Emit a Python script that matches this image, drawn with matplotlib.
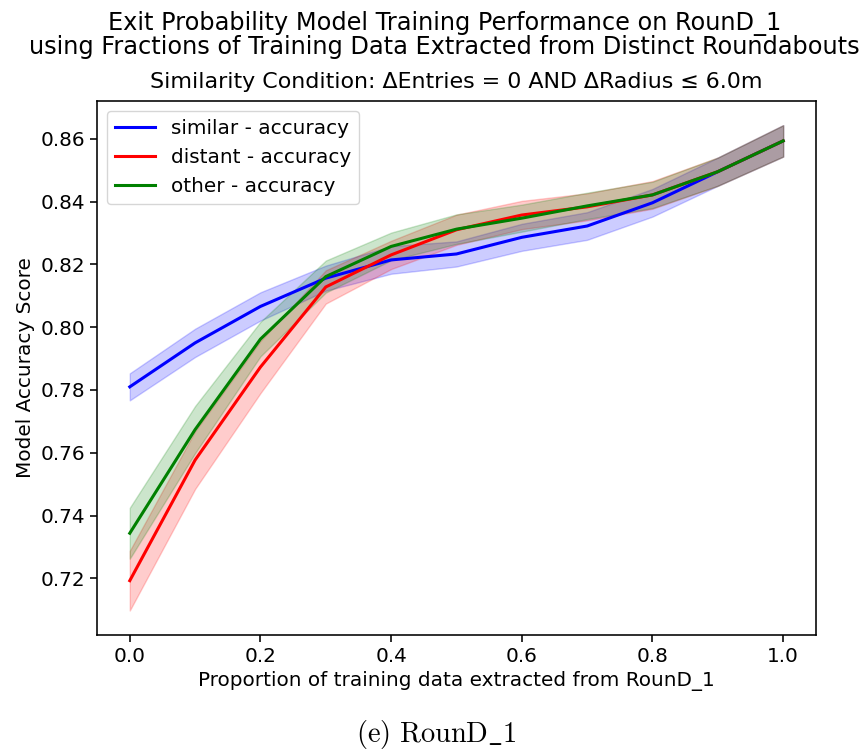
import numpy as np
import matplotlib
matplotlib.use("Agg")
import matplotlib.pyplot as plt

fractions = [0.0, 0.1, 0.2, 0.3, 0.4, 0.5, 0.6, 0.7, 0.8, 0.9, 1.0]

similar_mean = [0.7810, 0.7950, 0.8066, 0.8156, 0.8214, 0.8233, 0.8286, 0.8322, 0.8396, 0.8495, 0.8593]
similar_err = [0.0043, 0.0045, 0.0045, 0.0040, 0.0044, 0.0040, 0.0043, 0.0044, 0.0044, 0.0045, 0.0050]

distant_mean = [0.7193, 0.7577, 0.7873, 0.8128, 0.8230, 0.8310, 0.8357, 0.8383, 0.8421, 0.8495, 0.8593]
distant_err = [0.0095, 0.0092, 0.0083, 0.0053, 0.0045, 0.0048, 0.0045, 0.0043, 0.0044, 0.0045, 0.0050]

other_mean = [0.7344, 0.7674, 0.7962, 0.8161, 0.8257, 0.8312, 0.8347, 0.8386, 0.8421, 0.8495, 0.8593]
other_err = [0.0081, 0.0075, 0.0055, 0.0051, 0.0044, 0.0047, 0.0043, 0.0042, 0.0042, 0.0045, 0.0050]

series = [("similar - accuracy", similar_mean, similar_err, "blue"),
          ("distant - accuracy", distant_mean, distant_err, "red"),
          ("other - accuracy", other_mean, other_err, "green")]

plt.rcParams["mathtext.fontset"] = "cm"
plt.rcParams["axes.linewidth"] = 1.15
fig = plt.figure(figsize=(8.67, 7.53), dpi=100)
ax = fig.add_axes([0.112, 0.157, 0.829, 0.709])

x = np.array(fractions)
for name, m, e, c in series:
    m = np.array(m)
    e = np.array(e)
    ax.plot(x, m, color=c, lw=2.2, label=name)
    ax.fill_between(x, m - e, m + e, color=c, alpha=0.2)

fs = 14.4
ax.tick_params(labelsize=fs, length=5, width=1.15)
ax.set_xlabel("Proportion of training data extracted from RounD_1", fontsize=fs)
ax.set_ylabel("Model Accuracy Score", fontsize=fs)
ax.set_title("Similarity Condition: \u0394Entries = 0 AND \u0394Radius \u2264 6.0m", fontsize=15.9, pad=9.5)
fig.text(0.513, 0.986, "Exit Probability Model Training Performance on RounD_1\n"
         "using Fractions of Training Data Extracted from Distinct Roundabouts",
         ha="center", va="top", fontsize=17.3, linespacing=0.97)
ax.legend(loc="upper left", fontsize=fs)

fig.text(0.503, 0.025, r"$\mathrm{(e)\ RounD\_1}$", ha="center", va="center", fontsize=20.5)

fig.savefig("out.png", dpi=100)
